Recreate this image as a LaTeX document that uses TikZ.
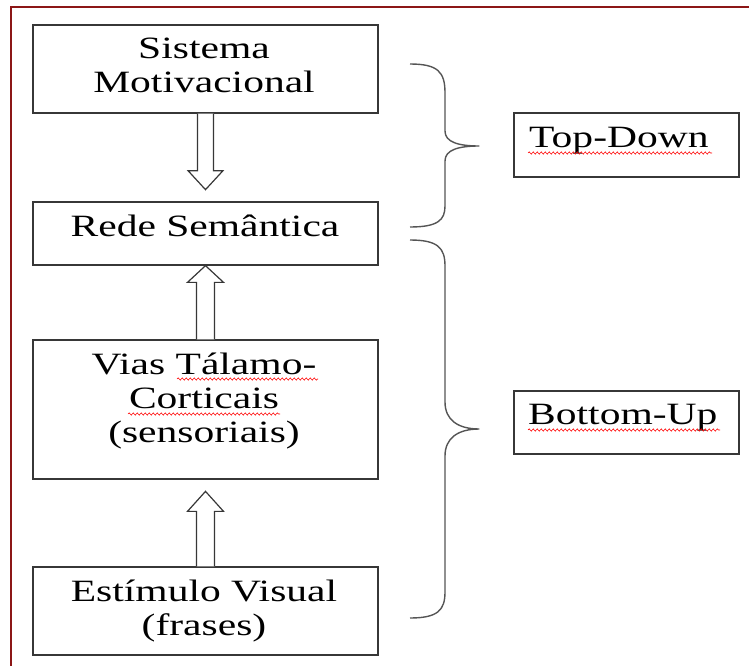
\documentclass[tikz,border=0pt]{standalone}
\usepackage{fontspec}
\setmainfont{Liberation Serif}[FakeStretch=1.34]
\usetikzlibrary{calc,decorations.pathmorphing}
\definecolor{bordred}{RGB}{140,22,22}
\definecolor{boxline}{RGB}{55,55,55}
\definecolor{braceline}{RGB}{85,85,85}
\newcommand\mylines[1]{\vtop{\baselineskip=34pt\lineskiplimit=-100pt\lineskip=0pt\halign{\hfil##\hfil\cr#1\crcr}}}
\begin{document}
\begin{tikzpicture}[x=1pt,y=-1pt,
  boxnode/.style={draw=boxline,line width=1.3pt,rectangle,minimum width=345pt,inner sep=0pt},
  sidebox/.style={draw=boxline,line width=1.3pt,rectangle,minimum width=225pt,inner sep=0pt},
  txt/.style={inner sep=0pt,font=\fontsize{31}{34}\selectfont},
  blockarrow/.style={draw=boxline,line width=1.2pt,fill=white,line join=miter},
  bracestyle/.style={draw=braceline,line width=1.4pt},
  squig/.style={draw=red,line width=0.6pt,decorate,decoration={snake,amplitude=1.1pt,segment length=4pt}}]
\useasboundingbox (0,0) rectangle (749,666);
% page border (top and left)
\draw[bordred,line width=1.8pt] (11,666) -- (11,7) -- (749,7);
% main boxes
\node[boxnode,minimum height=88pt] (b1) at (205.5,69) {};
\node[boxnode,minimum height=63pt] (b2) at (205.5,233.5) {};
\node[boxnode,minimum height=139pt] (b3) at (205.5,409.5) {};
\node[boxnode,minimum height=88pt] (b4) at (205.5,611) {};
% side boxes
\node[sidebox,minimum height=64pt] (td) at (626.5,145) {};
\node[sidebox,minimum height=63pt] (bu) at (626.5,422.5) {};
% texts
\node[txt,anchor=base] (t1) at (204,59) {\mylines{Sistema\cr Motivacional}};
\node[txt,anchor=base] (t2) at (205,236) {\mylines{Rede Semântica}};
\node[txt,anchor=base] (t3) at (204,374) {\mylines{Vias Tálamo-\cr Corticais\cr (sensoriais)}};
\node[txt,anchor=base] (t4) at (204,601) {\mylines{Estímulo Visual\cr (frases)}};
\node[txt,anchor=base west] (t5) at (529,147) {Top-Down};
\node[txt,anchor=base west] (t6) at (528,424) {Bottom-Up};
% spell-check squiggles
\draw[squig] (177,379) -- (318,379);
\draw[squig] (128,414) -- (280,414);
\draw[squig] (528,153) -- (712,153);
\draw[squig] (528,430) -- (720,430);
% block arrows
\draw[blockarrow] ($(b1.south)+(-8,0)$) -- ($(b1.south)+(-8,57)$) -- ($(b1.south)+(-17.5,57)$)
  -- ($(b1.south)+(0,76)$) -- ($(b1.south)+(17.5,57)$) -- ($(b1.south)+(8,57)$) -- ($(b1.south)+(8,0)$);
\draw[blockarrow] ($(b3.north)+(-9,0)$) -- ($(b3.north)+(-9,-57)$) -- ($(b3.north)+(-18,-57)$)
  -- (b2.south) -- ($(b3.north)+(18,-57)$) -- ($(b3.north)+(9,-57)$) -- ($(b3.north)+(9,0)$);
\draw[blockarrow] ($(b4.north)+(-9,0)$) -- ($(b4.north)+(-9,-55)$) -- ($(b4.north)+(-18,-55)$)
  -- ($(b4.north)+(0,-75)$) -- ($(b4.north)+(18,-55)$) -- ($(b4.north)+(9,-55)$) -- ($(b4.north)+(9,0)$);
% braces
\coordinate (tdtip) at ($(td.west)+(-34,1)$);
\coordinate (butip) at ($(bu.west)+(-34,6.5)$);
\draw[bracestyle] (410,64) .. controls (438,64) and (445,72) .. (445,93)
  -- (445,131) .. controls (445,142) and (458,146) .. (tdtip)
  .. controls (458,146) and (445,150) .. (445,161)
  -- (445,206) .. controls (445,220) and (438,227) .. (410,227);
\draw[bracestyle] (410,240) .. controls (438,240) and (445,248) .. (445,266)
  -- (445,402) .. controls (445,420) and (458,429) .. (butip)
  .. controls (458,429) and (445,438) .. (445,456)
  -- (445,592) .. controls (445,610) and (438,618) .. (410,618);
\end{tikzpicture}
\end{document}
